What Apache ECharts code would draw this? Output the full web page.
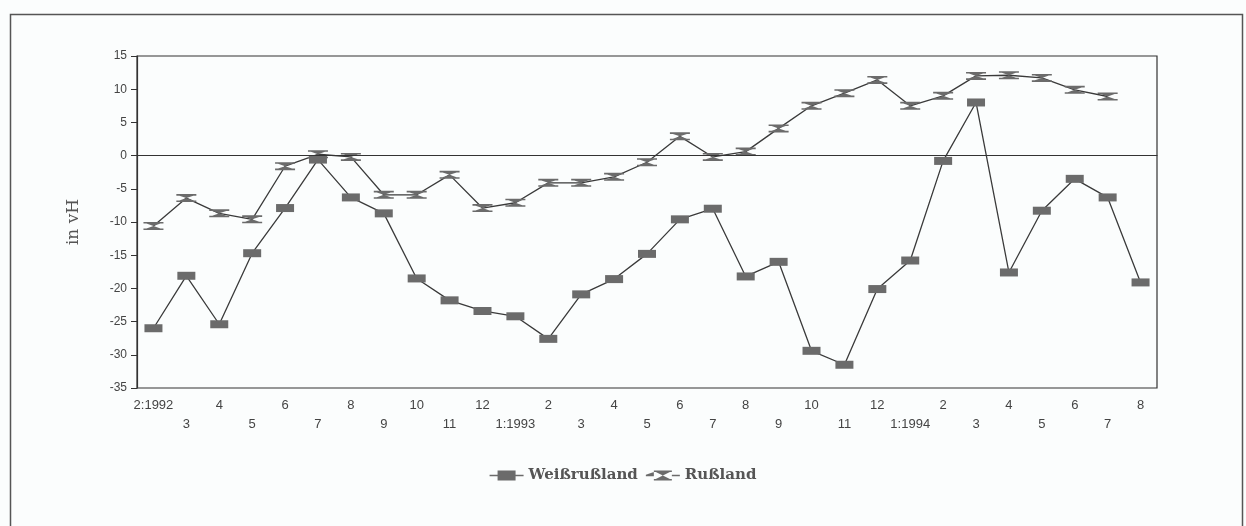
<!DOCTYPE html>
<html>
<head>
<meta charset="utf-8">
<script src="https://cdn.jsdelivr.net/npm/echarts@6/dist/echarts.min.js"></script>
<style>html,body{margin:0;padding:0;background:#fbfdfd;}#c{width:1246px;height:526px;}</style>
</head>
<body>
<div id="c"></div>
<script>
const categories = ['2:1992','3','4','5','6','7','8','9','10','11','12',
  '1:1993','2','3','4','5','6','7','8','9','10','11','12',
  '1:1994','2','3','4','5','6','7','8'];
const weissrussland = [-26.0,-18.1,-25.4,-14.7,-7.9,-0.6,-6.3,-8.7,-18.5,-21.8,-23.4,
  -24.2,-27.6,-20.9,-18.6,-14.8,-9.6,-8.0,-18.2,-16.0,-29.4,-31.5,-20.1,
  -15.8,-0.8,8.0,-17.6,-8.3,-3.5,-6.3,-19.1];
const russland = [-10.6,-6.4,-8.7,-9.6,-1.6,0.2,-0.2,-5.9,-5.9,-2.9,-7.9,
  -7.1,-4.1,-4.1,-3.2,-1.0,2.9,-0.2,0.6,4.1,7.5,9.4,11.4,
  7.5,9.0,12.0,12.1,11.7,9.9,8.9,null];
const yTicks = {min:-35, max:15, interval:5};

const chart = echarts.init(document.getElementById('c'), null, {renderer:'canvas'});
const rectSym = 'rect';
const bowSym = 'path://M0,0L20,0L20,1.6L0,1.6Z M0,6.4L20,6.4L20,8L0,8Z M3,1.6L17,1.6L10,4Z M3,6.4L17,6.4L10,4Z';
const lineCol = '#3a3a3a';
chart.setOption({
  backgroundColor:'#fbfdfd',
  animation:false,
  graphic:[{type:'rect', left:8, top:12, shape:{width:1232, height:530}, style:{fill:null, stroke:'#555', lineWidth:1.5}, silent:true}],
  grid:{left:137, right:89, top:56, bottom:138, show:true, borderColor:'#333', borderWidth:1.2, backgroundColor:'transparent'},
  legend:{
    top:463, left:'center', itemGap:8, itemWidth:34, itemHeight:10,
    textStyle:{fontFamily:'"DejaVu Serif", serif', fontWeight:'bold', fontSize:15, color:'#555'},
    data:[{name:'Weißrußland', icon:'path://M0,4.2L8,4.2L8,0L26,0L26,4.2L34,4.2L34,5.8L26,5.8L26,10L8,10L8,5.8L0,5.8Z'},
          {name:'Rußland', icon:'path://M0,4.2L8,4.2L8,0L26,0L26,1.6L8,1.6Z M8,8.4L26,8.4L26,10L8,10Z M10,1.6L24,1.6L17,5Z M10,8.4L24,8.4L17,5Z M26,4.2L34,4.2L34,5.8L26,5.8Z M0,4.2L8,4.2L8,5.8L0,5.8Z'}]
  },
  xAxis:{
    type:'category', data:categories, boundaryGap:true,
    axisLine:{lineStyle:{color:'#333', width:1.2}},
    axisTick:{alignWithLabel:true, length:5, inside:false, lineStyle:{color:'#333'}},
    axisLabel:{interval:0, color:'#444', fontFamily:'"Liberation Sans", Arial, sans-serif', fontSize:13, lineHeight:19, margin:8,
      formatter:function(v, i){ return (i % 2 === 1) ? '\n' + v : v; }},
    splitLine:{show:false}
  },
  yAxis:{
    type:'value', min:yTicks.min, max:yTicks.max, interval:yTicks.interval,
    name:'in vH', nameLocation:'middle', nameGap:55, nameRotate:90,
    nameTextStyle:{fontFamily:'"DejaVu Serif", serif', fontSize:17, color:'#555'},
    axisLine:{show:true, lineStyle:{color:'#333', width:1.2}},
    axisTick:{show:true, length:6, lineStyle:{color:'#333'}},
    axisLabel:{color:'#444', fontFamily:'"Liberation Sans", Arial, sans-serif', fontSize:12, margin:10},
    splitLine:{show:false}
  },
  series:[
    {name:'Weißrußland', type:'line', data:weissrussland, symbol:rectSym, symbolSize:[18,8],
      lineStyle:{color:lineCol, width:1.3}, itemStyle:{color:'#6b6b6b', borderWidth:0},
      markLine:{silent:true, symbol:'none', label:{show:false}, lineStyle:{color:'#333', type:'solid', width:1.2}, data:[{yAxis:0}]}},
    {name:'Rußland', type:'line', data:russland, symbol:bowSym, symbolSize:[20,8], connectNulls:false,
      lineStyle:{color:lineCol, width:1.3}, itemStyle:{color:'#6b6b6b', borderWidth:0}}
  ]
});
</script>
</body>
</html>
